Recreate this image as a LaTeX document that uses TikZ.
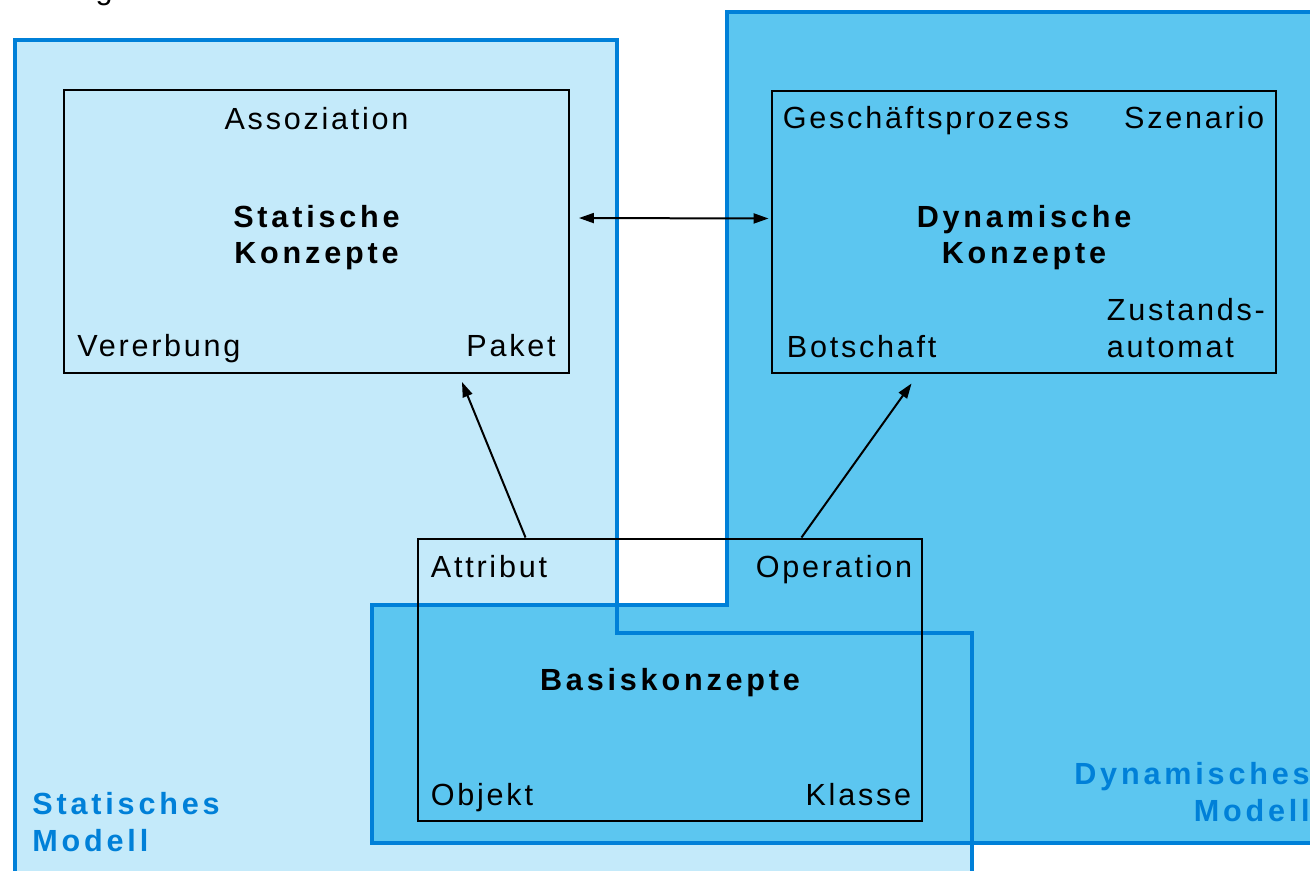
\documentclass[tikz,border=0pt]{standalone}
\usepackage{fontspec}
\setmainfont{Liberation Sans}[LetterSpace=9,BoldFeatures={LetterSpace=12.5}]
\usetikzlibrary{arrows.meta}
\definecolor{modellinie}{RGB}{0,128,216}
\definecolor{statisch}{RGB}{196,234,250}
\definecolor{dynamisch}{RGB}{92,198,240}
\tikzset{
    konzept/.style={draw=black, line width=0.04cm, minimum width=10.1cm, minimum height=5.66cm, inner sep=0pt},
    eintrag/.style={inner sep=0pt, font=\fontsize{17.4}{21}\selectfont},
    titel/.style={inner sep=0pt, align=center, font=\fontsize{17.4}{21}\selectfont\bfseries},
    modell/.style={inner sep=0pt, text=modellinie, font=\fontsize{17.4}{21}\selectfont\bfseries},
    pfeil/.style={line width=0.04cm, -{Triangle[length=0.3cm,width=0.2cm]}},
}

\begin{document}
\begin{tikzpicture}[x=0.02cm,y=-0.02cm]
        \useasboundingbox (0,0) rectangle (1310,871);
        \clip (0,0) rectangle (1310,871);
        % Modelle
        \fill[statisch] (15,40) -- (617,40) -- (617,633) -- (972,633) -- (972,900) -- (15,900) -- cycle;
        \filldraw[fill=dynamisch, draw=modellinie, line width=0.08cm] (727,12) -- (1340,12) -- (1340,843) -- (372,843) -- (372,605) -- (727,605) -- cycle;
        \draw[modellinie, line width=0.08cm] (15,900) -- (15,40) -- (617,40) -- (617,633) -- (972,633) -- (972,900);
        \node[eintrag, anchor=base] (ueberschrift) at (104,0) {g};

        % Konzepte
        \node[konzept] (stat) at (316.5,231.5) {};
        \node[konzept] (dyn) at (1024,232) {};
        \node[konzept] (basis) at (670,680) {};

        \node[eintrag, anchor=base] (assoz) at ([yshift=-0.8cm]stat.north) {Assoziation};
        \node[titel, anchor=base] (stattitel) at ([yshift=-0.65cm]stat.center) {Statische\\Konzepte};
        \node[eintrag, anchor=base west] (vererb) at ([xshift=0.28cm,yshift=0.34cm]stat.south west) {Vererbung};
        \node[eintrag, anchor=base east] (paket) at ([xshift=-0.28cm,yshift=0.34cm]stat.south east) {Paket};

        \node[eintrag, anchor=base west] (gproz) at ([xshift=0.24cm,yshift=-0.78cm]dyn.north west) {Geschäftsprozess};
        \node[eintrag, anchor=base east] (szen) at ([xshift=-0.26cm,yshift=-0.78cm]dyn.north east) {Szenario};
        \node[titel, anchor=base] (dyntitel) at ([yshift=-0.64cm]dyn.center) {Dynamische\\Konzepte};
        \node[eintrag, anchor=base west, align=left] (zust) at ([xshift=6.72cm,yshift=0.34cm]dyn.south west) {Zustands-\\automat};
        \node[eintrag, anchor=base west] (botsch) at ([xshift=0.32cm,yshift=0.34cm]dyn.south west) {Botschaft};

        \node[eintrag, anchor=base west] (attr) at ([xshift=0.28cm,yshift=-0.8cm]basis.north west) {Attribut};
        \node[eintrag, anchor=base east] (oper) at ([xshift=-0.22cm,yshift=-0.8cm]basis.north east) {Operation};
        \node[titel, anchor=base] (basistitel) at ([yshift=-0.2cm]basis.center) {Basiskonzepte};
        \node[eintrag, anchor=base west] (objekt) at ([xshift=0.28cm,yshift=0.34cm]basis.south west) {Objekt};
        \node[eintrag, anchor=base east] (klasse) at ([xshift=-0.24cm,yshift=0.34cm]basis.south east) {Klasse};

        \node[modell, anchor=base west, align=left] (statmodell) at (32,851) {Statisches\\Modell};
        \node[modell, anchor=base east, align=right] (dynmodell) at (1310,821) {Dynamisches\\Modell};

        % Beziehungen
        \draw[pfeil, {Triangle[length=0.3cm,width=0.2cm]}-{Triangle[length=0.3cm,width=0.2cm]}, shorten <=0.18cm, shorten >=0.04cm] ([yshift=0.27cm]stat.east) -- ([yshift=0.27cm]dyn.west);
        \draw[pfeil] ([xshift=2.18cm]basis.north west) -- ([xshift=7.98cm,yshift=-0.16cm]stat.south west);
        \draw[pfeil] ([xshift=-2.44cm]basis.north east) -- ([xshift=2.82cm,yshift=-0.18cm]dyn.south west);
    \end{tikzpicture}
\end{document}
